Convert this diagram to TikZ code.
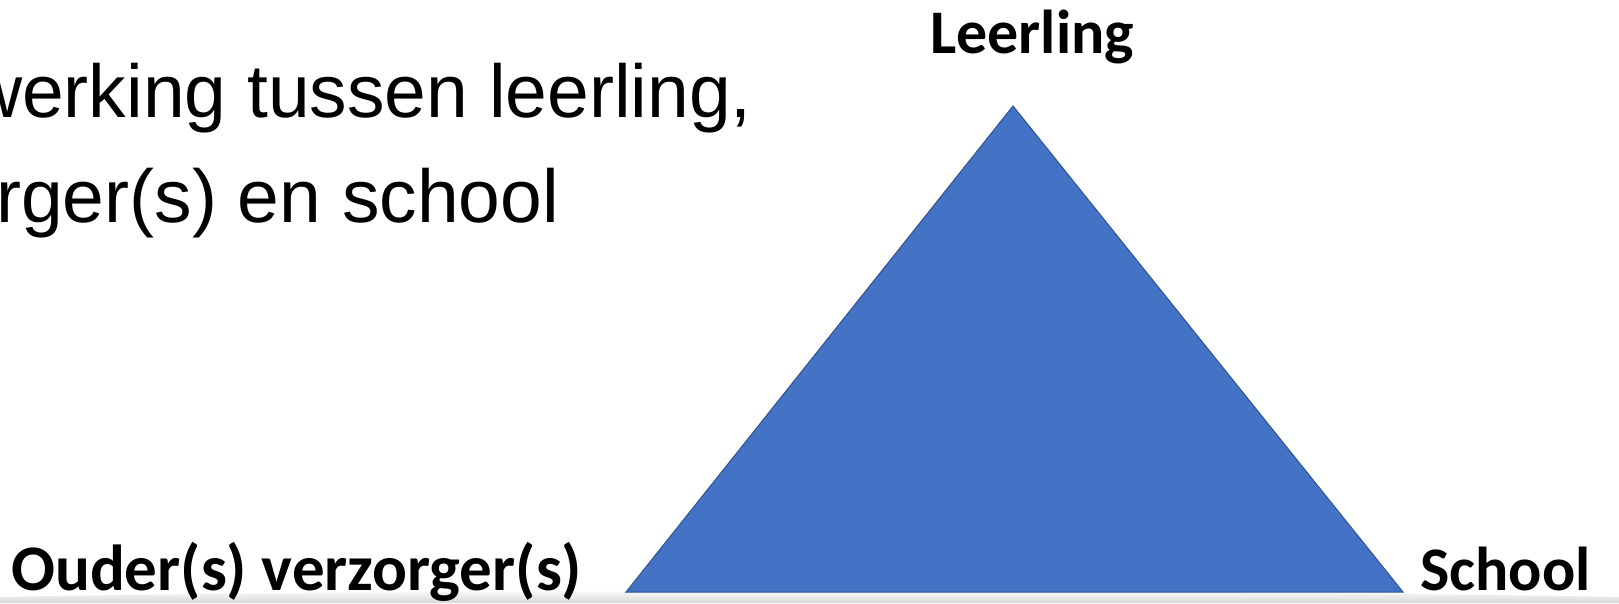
\documentclass[tikz,border=0pt]{standalone}
\usepackage{fontspec}
\setmainfont{Liberation Sans}
\newfontfamily\calibri{Carlito}
\definecolor{triblue}{HTML}{4472C4}
\definecolor{triedge}{HTML}{2F528F}
\begin{document}
\begin{tikzpicture}[x=1pt,y=-1pt,
  body/.style={font=\fontsize{75}{90}\selectfont, inner sep=0pt, text=black},
  lbl/.style={font=\calibri\bfseries\fontsize{62}{70}\selectfont, inner sep=0pt, text=black},
  tri/.style={draw=triedge, fill=triblue, line width=1pt, line join=miter}]
\useasboundingbox (0,0) rectangle (1619,603);
\fill[white] (0,0) rectangle (1619,603);
\shade[top color=white, bottom color=black!16]
  (0,603) -- (0,597) .. controls (400,589) and (1200,589) .. (1619,597) -- (1619,603) -- cycle;
\coordinate (apex) at (1013,106);
\coordinate (bl) at (626,592);
\coordinate (br) at (1403,592);
\draw[tri] (apex) -- (br) -- (bl) -- cycle;
\node[body, anchor=base east] (l1) at (752,117) {werking tussen leerling,};
\node[body, anchor=base west] (l2) at (-4,222) {rger(s) en school};
\node[lbl, anchor=base west] (leer) at (930,53) {Leerling};
\node[lbl, anchor=base west, font=\calibri\bfseries\fontsize{65}{70}\selectfont] (ouder) at (11,590) {Ouder(s) verzorger(s)};
\node[lbl, anchor=base west] (school) at (1420,590) {School};
\end{tikzpicture}
\end{document}
